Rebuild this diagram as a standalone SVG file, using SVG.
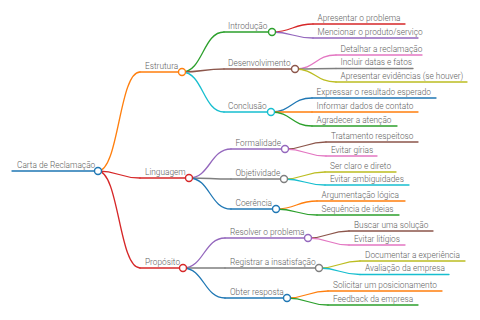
<svg xmlns="http://www.w3.org/2000/svg" width="480" height="320" viewBox="0 0 480 320">
<style>
text{font-family:Roboto,"Liberation Sans",sans-serif;font-size:8.3px;font-weight:300;fill:#606060}
path,line,circle{fill:none;stroke-width:1.3;stroke-linecap:round}
circle{fill:#fff;stroke-width:1.4}
.blue{stroke:#1f77b4}.orange{stroke:#ff7f0e}.green{stroke:#2ca02c}.red{stroke:#d62728}
.purple{stroke:#9467bd}.brown{stroke:#8c564b}.pink{stroke:#e377c2}.gray{stroke:#7f7f7f}
.olive{stroke:#bcbd22}.cyan{stroke:#17becf}
</style>
<rect width="480" height="320" fill="#fff"/>
<g id="connectors">
<path class="orange" d="M98,171 C119,171 119,72 140,72"/>
<path class="red" d="M98,171 C119,171 119,178 140,178"/>
<path class="red" d="M98,171 C119,171 119,268 140,268"/>
<path class="green" d="M182,72 C203,72 203,32 224,32"/>
<path class="brown" d="M182,72 C203,72 203,69 224,69"/>
<path class="cyan" d="M182,72 C203,72 203,112 224,112"/>
<path class="purple" d="M189,178 C210,178 210,149 231,149"/>
<path class="gray" d="M189,178 C210,178 210,179 231,179"/>
<path class="blue" d="M189,178 C210,178 210,209 231,209"/>
<path class="purple" d="M183,268 C204,268 204,238 225,238"/>
<path class="gray" d="M183,268 C204,268 204,268 225,268"/>
<path class="blue" d="M183,268 C204,268 204,298 225,298"/>
<path class="red" d="M272,32 C292.5,32 292.5,24 313,24"/>
<path class="purple" d="M272,32 C292.5,32 292.5,38 313,38"/>
<path class="pink" d="M295,69 C315.5,69 315.5,55 336,55"/>
<path class="gray" d="M295,69 C315.5,69 315.5,68.5 336,68.5"/>
<path class="olive" d="M295,69 C315.5,69 315.5,82 336,82"/>
<path class="blue" d="M271,112 C291.5,112 291.5,98 312,98"/>
<path class="orange" d="M271,112 C291.5,112 291.5,112 312,112"/>
<path class="green" d="M271,112 C291.5,112 291.5,126 312,126"/>
<path class="brown" d="M285,149 C305.5,149 305.5,142 326,142"/>
<path class="pink" d="M285,149 C305.5,149 305.5,156 326,156"/>
<path class="olive" d="M284,179 C304.5,179 304.5,172 325,172"/>
<path class="cyan" d="M284,179 C304.5,179 304.5,185 325,185"/>
<path class="orange" d="M276,209 C296.5,209 296.5,201 317,201"/>
<path class="green" d="M276,209 C296.5,209 296.5,215 317,215"/>
<path class="brown" d="M308,238 C328.5,238 328.5,231 349,231"/>
<path class="pink" d="M308,238 C328.5,238 328.5,245 349,245"/>
<path class="olive" d="M319,268 C339.5,268 339.5,261 360,261"/>
<path class="cyan" d="M319,268 C339.5,268 339.5,274.5 360,274.5"/>
<path class="orange" d="M287,298 C307.5,298 307.5,291 328,291"/>
<path class="green" d="M287,298 C307.5,298 307.5,305 328,305"/>
</g>
<g id="n-root"><line class="blue" x1="12" y1="171" x2="98" y2="171"/><circle class="blue" cx="98" cy="171" r="3.5"/><text x="17" y="167.5">Carta de Reclamação</text></g>
<g id="n-estrutura"><line class="orange" x1="140" y1="72" x2="182" y2="72"/><circle class="orange" cx="182" cy="72" r="3.5"/><text x="145" y="68.5">Estrutura</text></g>
<g id="n-linguagem"><line class="red" x1="140" y1="178" x2="189" y2="178"/><circle class="red" cx="189" cy="178" r="3.5"/><text x="145" y="174.5">Linguagem</text></g>
<g id="n-proposito"><line class="red" x1="140" y1="268" x2="183" y2="268"/><circle class="red" cx="183" cy="268" r="3.5"/><text x="145" y="264.5">Propósito</text></g>
<g id="n-introducao"><line class="green" x1="224" y1="32" x2="272" y2="32"/><circle class="green" cx="272" cy="32" r="3.5"/><text x="228" y="28.5">Introdução</text></g>
<g id="n-desenvolvimento"><line class="brown" x1="224" y1="69" x2="295" y2="69"/><circle class="brown" cx="295" cy="69" r="3.5"/><text x="228" y="65.5">Desenvolvimento</text></g>
<g id="n-conclusao"><line class="cyan" x1="224" y1="112" x2="271" y2="112"/><circle class="cyan" cx="271" cy="112" r="3.5"/><text x="228" y="108.5">Conclusão</text></g>
<g id="n-formalidade"><line class="purple" x1="231" y1="149" x2="285" y2="149"/><circle class="purple" cx="285" cy="149" r="3.5"/><text x="235.5" y="145.5">Formalidade</text></g>
<g id="n-objetividade"><line class="gray" x1="231" y1="179" x2="284" y2="179"/><circle class="gray" cx="284" cy="179" r="3.5"/><text x="235.5" y="175.5">Objetividade</text></g>
<g id="n-coerencia"><line class="blue" x1="231" y1="209" x2="276" y2="209"/><circle class="blue" cx="276" cy="209" r="3.5"/><text x="235.5" y="205.5">Coerência</text></g>
<g id="n-resolver"><line class="purple" x1="225" y1="238" x2="308" y2="238"/><circle class="purple" cx="308" cy="238" r="3.5"/><text x="230" y="234.5">Resolver o problema</text></g>
<g id="n-registrar"><line class="gray" x1="225" y1="268" x2="319" y2="268"/><circle class="gray" cx="319" cy="268" r="3.5"/><text x="230" y="264.5">Registrar a insatisfação</text></g>
<g id="n-obter"><line class="blue" x1="225" y1="298" x2="287" y2="298"/><circle class="blue" cx="287" cy="298" r="3.5"/><text x="230" y="294.5">Obter resposta</text></g>
<g id="n-l1"><line class="red" x1="313" y1="24" x2="405" y2="24"/><text x="317.5" y="20.5">Apresentar o problema</text></g>
<g id="n-l2"><line class="purple" x1="313" y1="38" x2="418" y2="38"/><text x="317.5" y="34.5">Mencionar o produto/serviço</text></g>
<g id="n-l3"><line class="pink" x1="336" y1="55" x2="422" y2="55"/><text x="340.5" y="51.5">Detalhar a reclamação</text></g>
<g id="n-l4"><line class="gray" x1="336" y1="68.5" x2="413" y2="68.5"/><text x="340.5" y="65">Incluir datas e fatos</text></g>
<g id="n-l5"><line class="olive" x1="336" y1="82" x2="467" y2="82"/><text x="340.5" y="78.5">Apresentar evidências (se houver)</text></g>
<g id="n-l6"><line class="blue" x1="312" y1="98" x2="436" y2="98"/><text x="316.5" y="94.5">Expressar o resultado esperado</text></g>
<g id="n-l7"><line class="orange" x1="312" y1="112" x2="418" y2="112"/><text x="316.5" y="108.5">Informar dados de contato</text></g>
<g id="n-l8"><line class="green" x1="312" y1="126" x2="397" y2="126"/><text x="316.5" y="122.5">Agradecer a atenção</text></g>
<g id="n-l9"><line class="brown" x1="326" y1="142" x2="418" y2="142"/><text x="331" y="138.5">Tratamento respeitoso</text></g>
<g id="n-l10"><line class="pink" x1="326" y1="156" x2="377" y2="156"/><text x="331" y="152.5">Evitar gírias</text></g>
<g id="n-l11"><line class="olive" x1="325" y1="172" x2="396" y2="172"/><text x="330" y="168.5">Ser claro e direto</text></g>
<g id="n-l12"><line class="cyan" x1="325" y1="185" x2="409" y2="185"/><text x="330" y="181.5">Evitar ambiguidades</text></g>
<g id="n-l13"><line class="orange" x1="317" y1="201" x2="405" y2="201"/><text x="321.5" y="197.5">Argumentação lógica</text></g>
<g id="n-l14"><line class="green" x1="317" y1="215" x2="399" y2="215"/><text x="321.5" y="211.5">Sequência de ideias</text></g>
<g id="n-l15"><line class="brown" x1="349" y1="231" x2="433" y2="231"/><text x="354" y="227.5">Buscar uma solução</text></g>
<g id="n-l16"><line class="pink" x1="349" y1="245" x2="405" y2="245"/><text x="354" y="241.5">Evitar litígios</text></g>
<g id="n-l17"><line class="olive" x1="360" y1="261" x2="465" y2="261"/><text x="365" y="257.5">Documentar a experiência</text></g>
<g id="n-l18"><line class="cyan" x1="360" y1="274.5" x2="449" y2="274.5"/><text x="365" y="271">Avaliação da empresa</text></g>
<g id="n-l19"><line class="orange" x1="328" y1="291" x2="442" y2="291"/><text x="333" y="287.5">Solicitar um posicionamento</text></g>
<g id="n-l20"><line class="green" x1="328" y1="305" x2="418" y2="305"/><text x="333" y="301.5">Feedback da empresa</text></g>
</svg>
